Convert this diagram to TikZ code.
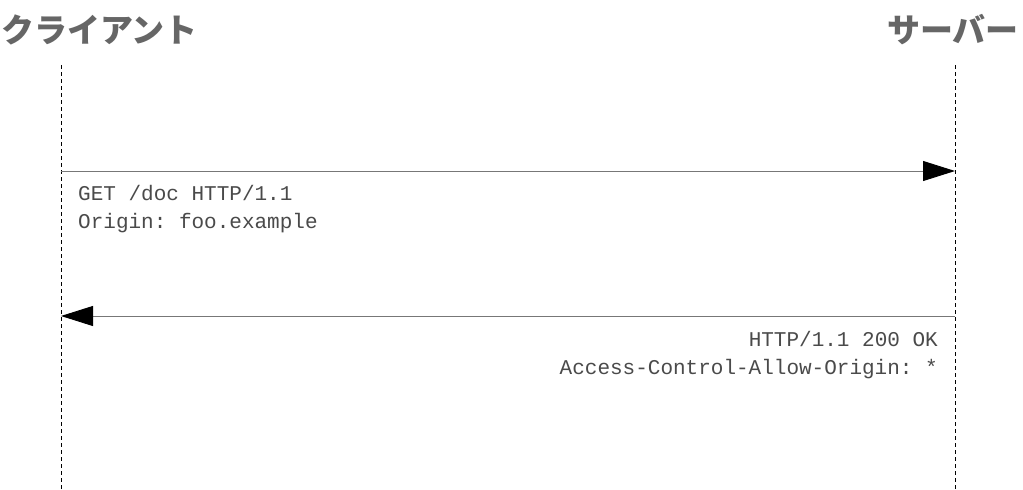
\documentclass[tikz,border=0pt]{standalone}
\usepackage{fontspec}
\setmonofont{Liberation Mono}
\newfontfamily\cjk{Noto Sans CJK JP}
\usetikzlibrary{arrows.meta}
\definecolor{titlegray}{HTML}{666666}
\definecolor{linegray}{HTML}{777777}
\definecolor{txtgray}{HTML}{4A4A4A}
\begin{document}
\begin{tikzpicture}[x=1pt,y=-1pt,
  title/.style={font=\cjk\bfseries\fontsize{33}{36}\selectfont, text=titlegray, inner sep=0pt},
  lifeline/.style={draw=black, dash pattern=on 4pt off 3pt, line width=0.8pt},
  msg/.style={draw=linegray, line width=0.9pt, -{Triangle[length=32pt,width=20pt,color=black]}},
  msgtext/.style={font=\ttfamily\fontsize{21}{28}\selectfont, text=txtgray, inner sep=0pt}]
\useasboundingbox (0,0) rectangle (1023,490);
\node[title, anchor=west] (client) at (1,30) {クライアント};
\node[title, anchor=east] (server) at (1019,30) {サーバー};
\coordinate (ctop) at (61,65);
\coordinate (cbot) at (61,490);
\coordinate (stop) at (955,65);
\coordinate (sbot) at (955,490);
\draw[lifeline] (ctop) -- (cbot);
\draw[lifeline] (stop) -- (sbot);
\coordinate (req1) at (61,171);
\coordinate (req2) at (955,171);
\coordinate (res1) at (955,316);
\coordinate (res2) at (61,316);
\draw[msg] (req1) -- (req2);
\draw[msg] (res1) -- (res2);
\node[msgtext, anchor=base west] (l1) at (78,200) {GET /doc HTTP/1.1};
\node[msgtext, anchor=base west] (l2) at (78,228) {Origin: foo.example};
\node[msgtext, anchor=base east] (l3) at (938,346) {HTTP/1.1 200 OK};
\node[msgtext, anchor=base east] (l4) at (938,374) {Access-Control-Allow-Origin: *};
\end{tikzpicture}
\end{document}
